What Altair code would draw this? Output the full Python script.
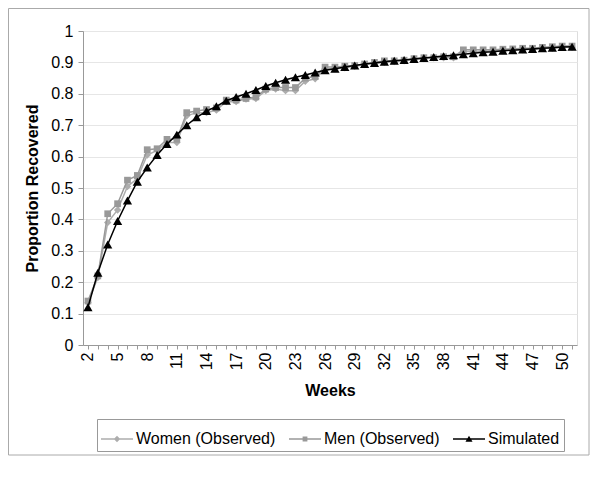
import altair as alt
import pandas as pd

weeks = [2, 3, 4, 5, 6, 7, 8, 9, 10, 11, 12, 13, 14, 15, 16, 17, 18, 19, 20, 21,
         22, 23, 24, 25, 26, 27, 28, 29, 30, 31, 32, 33, 34, 35, 36, 37, 38, 39, 40, 41,
         42, 43, 44, 45, 46, 47, 48, 49, 50, 51]

women = [0.135, 0.215, 0.39, 0.43, 0.505, 0.53, 0.605, 0.62, 0.645, 0.645,
         0.73, 0.74, 0.74, 0.748, 0.775, 0.775, 0.783, 0.785, 0.81, 0.815,
         0.81, 0.81, 0.84, 0.848, 0.88, 0.88, 0.883, 0.888, 0.893, 0.897,
         0.9, 0.903, 0.905, 0.91, 0.912, 0.915, 0.915, 0.915, 0.935, 0.935,
         0.935, 0.937, 0.937, 0.94, 0.94, 0.942, 0.945, 0.945, 0.948, 0.948]

men = [0.14, 0.22, 0.418, 0.45, 0.525, 0.54, 0.622, 0.625, 0.655, 0.655,
       0.74, 0.745, 0.75, 0.755, 0.78, 0.78, 0.785, 0.79, 0.815, 0.82,
       0.82, 0.82, 0.85, 0.855, 0.885, 0.885, 0.888, 0.89, 0.895, 0.9,
       0.905, 0.905, 0.907, 0.912, 0.915, 0.915, 0.918, 0.918, 0.94, 0.94,
       0.94, 0.94, 0.942, 0.943, 0.945, 0.945, 0.948, 0.95, 0.952, 0.952]

simulated = [0.12, 0.23, 0.32, 0.395, 0.46, 0.52, 0.565, 0.605, 0.64, 0.67,
             0.70, 0.725, 0.745, 0.76, 0.778, 0.79, 0.80, 0.812, 0.825, 0.835,
             0.845, 0.853, 0.86, 0.868, 0.875, 0.88, 0.885, 0.89, 0.895, 0.898,
             0.902, 0.905, 0.908, 0.911, 0.914, 0.917, 0.92, 0.923, 0.926, 0.929,
             0.932, 0.934, 0.937, 0.939, 0.941, 0.943, 0.945, 0.947, 0.949, 0.95]

series_names = ["Women (Observed)", "Men (Observed)", "Simulated"]
series_values = [women, men, simulated]
colors = ["#adadad", "#999999", "#000000"]
marker_shapes = ["diamond", "square", "triangle-up"]
marker_sizes = [55, 45, 85]
legend_paths = [
    "M-1,-0.045H1V0.045H-1ZM0,-0.2L0.2,0L0,0.2L-0.2,0Z",
    "M-1,-0.045H1V0.045H-1ZM-0.15,-0.15H0.15V0.15H-0.15Z",
    "M-1,-0.045H1V0.045H-1ZM0,-0.2L0.22,0.17H-0.22Z",
]

rows = []
for name, vals in zip(series_names, series_values):
    for w, v in zip(weeks, vals):
        rows.append({"week": w, "value": v, "series": name})
df = pd.DataFrame(rows)

FONT = "Liberation Sans"

x_enc = alt.X(
    "week:O",
    title="Weeks",
    sort=weeks,
    axis=alt.Axis(
        labelAngle=270,
        labelExpr="(datum.value - 2) % 3 == 0 ? datum.label : ''",
        labelFontSize=16,
        labelFont=FONT,
        labelColor="#000000",
        labelPadding=3,
        tickSize=4,
        tickColor="#999999",
        domainColor="#999999",
        titleFontSize=16,
        titleFont=FONT,
        titleFontWeight="bold",
        titlePadding=13,
        grid=False,
    ),
)
y_enc = alt.Y(
    "value:Q",
    title="Proportion Recovered",
    scale=alt.Scale(domain=[0, 1], nice=False),
    axis=alt.Axis(
        values=[0, 0.1, 0.2, 0.3, 0.4, 0.5, 0.6, 0.7, 0.8, 0.9, 1.0],
        format=".1~f",
        labelFontSize=16,
        labelFont=FONT,
        labelColor="#000000",
        labelPadding=5,
        tickSize=5,
        tickColor="#999999",
        domainColor="#999999",
        gridColor="#e6e6e6",
        titleFontSize=16,
        titleFont=FONT,
        titleFontWeight="bold",
        titlePadding=10,
    ),
)

layers = []
for name, col, shp, sz in zip(series_names, colors, marker_shapes, marker_sizes):
    sub = alt.Chart(df).transform_filter(alt.datum.series == name)
    layers.append(sub.mark_line(color=col, strokeWidth=1.5).encode(x=x_enc, y=y_enc))
    layers.append(
        sub.mark_point(shape=shp, size=sz, filled=True, color=col, opacity=1).encode(x=x_enc, y=y_enc)
    )

legend_props = dict(
    title=None,
    orient="none",
    legendX=14,
    legendY=388,
    direction="horizontal",
    labelFontSize=16,
    labelFont=FONT,
    labelColor="#000000",
    labelOffset=3,
    symbolSize=1024,
    symbolOpacity=1,
    symbolStrokeWidth=0,
    columnPadding=13,
    padding=4,
    strokeColor="#999999",
)

legend_layer = alt.Chart(df).mark_point(filled=True, opacity=0, size=1024, strokeWidth=0).encode(
    x=x_enc,
    y=y_enc,
    color=alt.Color(
        "series:N",
        scale=alt.Scale(domain=series_names, range=colors),
        legend=alt.Legend(**legend_props),
    ),
    shape=alt.Shape(
        "series:N",
        scale=alt.Scale(domain=series_names, range=legend_paths),
        legend=alt.Legend(**legend_props),
    ),
)

border = alt.Chart(pd.DataFrame({"a": [0]})).mark_rect(
    fillOpacity=0, stroke="#aaaaaa", strokeWidth=1
).encode(
    x=alt.value(-74.5), x2=alt.value(506), y=alt.value(-22.5), y2=alt.value(424)
)

chart = alt.layer(border, *layers, legend_layer).properties(
    width=494,
    height=314,
    padding={"left": 75, "top": 23, "right": 15, "bottom": 132},
    autosize=alt.AutoSizeParams(type="none"),
).configure_view(stroke="#999999", strokeWidth=1).configure(background="white")

chart.save("out.html", embed_options={"renderer": "svg", "actions": False})
